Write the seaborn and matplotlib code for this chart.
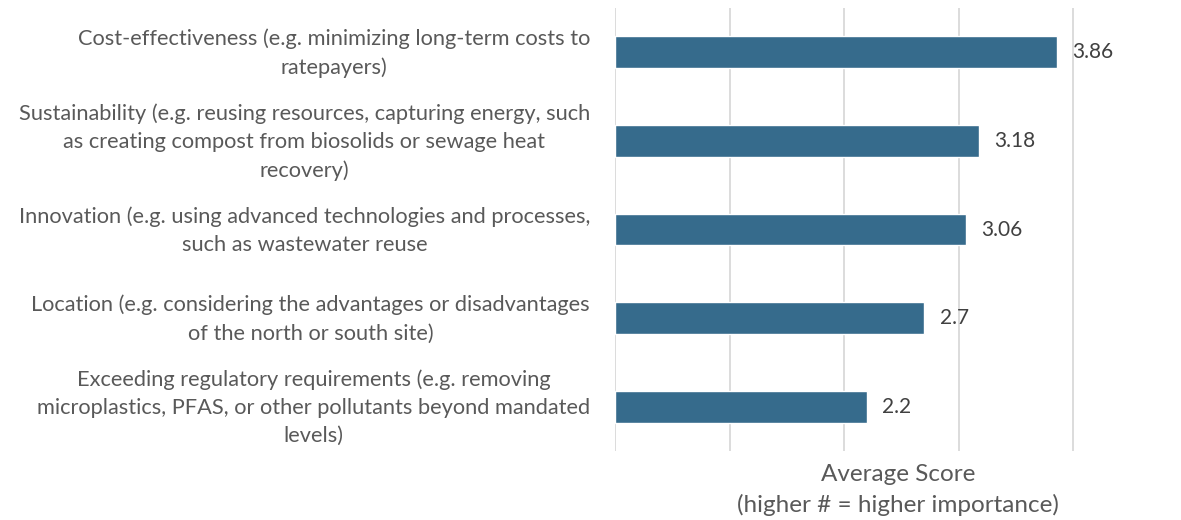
import numpy as np
import pandas as pd
import matplotlib
matplotlib.use('Agg')
import matplotlib.pyplot as plt
import matplotlib.transforms as mtransforms
import seaborn as sns

# data
categories = [
    "Cost-effectiveness (e.g. minimizing long-term costs to\nratepayers)",
    "Sustainability (e.g. reusing resources, capturing energy, such\nas creating compost from biosolids or sewage heat\nrecovery)",
    "Innovation (e.g. using advanced technologies and processes,\nsuch as wastewater reuse",
    "Location (e.g. considering the advantages or disadvantages\nof the north or south site)",
    "Exceeding regulatory requirements (e.g. removing\nmicroplastics, PFAS, or other pollutants beyond mandated\nlevels)",
]
scores = [3.86, 3.18, 3.06, 2.7, 2.2]
value_labels = ["3.86", "3.18", "3.06", "2.7", "2.2"]
grid_ticks = [0, 1, 2, 3, 4]

df = pd.DataFrame({"category": categories, "score": scores})

sns.set_style("white")
plt.rcParams['font.family'] = ['Lato', 'DejaVu Sans']

fig = plt.figure(figsize=(11.81, 5.2), dpi=100)
ax = fig.add_axes([615 / 1181, 1 - 451 / 520, 1 - 615 / 1181, 443 / 520])

sns.barplot(data=df, x="score", y="category", orient="h", color="#366B8C",
            saturation=1, width=0.36, ax=ax)

ax.set_xlim(0, 4.94)
ax.set_xticks(grid_ticks)
ax.set_xticklabels([])
ax.tick_params(axis='x', length=0)
ax.xaxis.grid(True, color="#d9d9d9", linewidth=1.3)
ax.set_axisbelow(True)
for s in ax.spines.values():
    s.set_visible(False)

ax.tick_params(axis='y', length=0, pad=18, labelsize=15.7, labelcolor="#595959")
shift = mtransforms.ScaledTranslation(0, 5 / 100, fig.dpi_scale_trans)
for lbl in ax.get_yticklabels():
    lbl.set_multialignment('center')
    lbl.set_linespacing(1.5)
    lbl.set_transform(lbl.get_transform() + shift)

for i, (v, t) in enumerate(zip(scores, value_labels)):
    ax.annotate(t, (v, i), xytext=(11, 0), textcoords='offset points',
                va='center', ha='left', fontsize=15, color="#404040")

ax.set_ylabel("")
ax.set_xlabel("Average Score\n(higher # = higher importance)", fontsize=17.5,
              color="#595959", labelpad=6, linespacing=1.5)

fig.savefig("out.png", dpi=100)
